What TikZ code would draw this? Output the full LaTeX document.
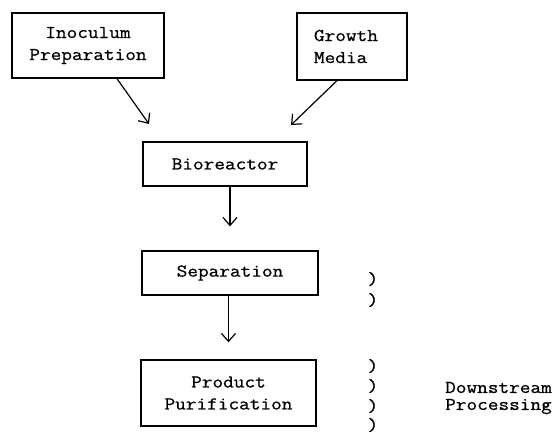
\documentclass[tikz,border=0pt]{standalone}
\usepackage{fontspec}
\setmonofont{Latin Modern Mono}[FakeStretch=1.15,FakeBold=0.8]
\usetikzlibrary{arrows.meta}
\begin{document}
\begin{tikzpicture}[x=1pt,y=-1pt,
  every node/.style={font=\ttfamily\fontsize{18}{22}\selectfont},
  box/.style={draw, line width=1.3pt, inner sep=0pt, align=center},
  arr/.style={line width=1.2pt, -{Straight Barb[length=8pt,width=14pt,line width=1.2pt]}},
  paren/.style={inner sep=0pt}
]
\useasboundingbox (0,0) rectangle (558,434);
\node[box, minimum width=152pt, minimum height=65pt] (inoc) at (88,45.5) {Inoculum\\Preparation};
\node[box, minimum width=110pt, minimum height=67pt, text width=76pt, align=left] (growth) at (352,46.5) {Growth\\Media};
\node[box, minimum width=164pt, minimum height=44pt] (bio) at (225,164) {Bioreactor};
\node[box, minimum width=176pt, minimum height=44pt] (sep) at (230,273) {Separation};
\node[box, minimum width=175pt, minimum height=66pt] (prod) at (228.5,393) {Product\\Purification};
\node[inner sep=0pt, anchor=west, align=left, font=\ttfamily\fontsize{18}{17}\selectfont] (down) at (445,398) {Downstream\\Processing};
\node[paren] (p1) at (373,279) {)};
\node[paren] (p2) at (373,300) {)};
\node[paren] (p3) at (373,366) {)};
\node[paren] (p4) at (373,386) {)};
\node[paren] (p5) at (373,406) {)};
\node[paren] (p6) at (373,425) {)};
\coordinate (a1) at (149,124);
\coordinate (a2) at (291,125);
\draw[arr] ([xshift=29pt]inoc.south) -- (a1);
\draw[arr] ([xshift=-15pt]growth.south) -- (a2);
\draw[arr, shorten >=24pt] (bio.south -| sep.north) -- (sep.north);
\draw[arr, shorten >=17pt] (sep.south -| prod.north) -- (prod.north);
\end{tikzpicture}
\end{document}
